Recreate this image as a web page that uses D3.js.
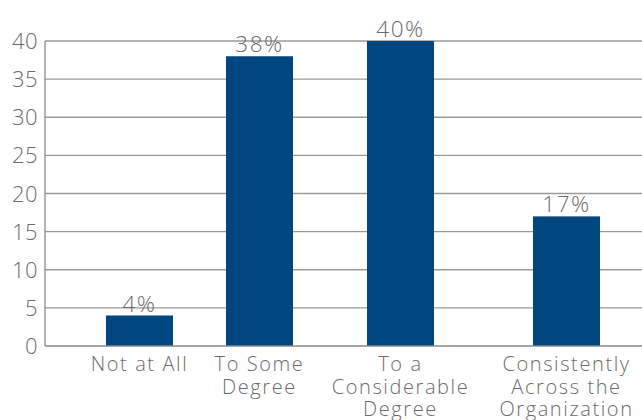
<!DOCTYPE html>
<html><head><meta charset="utf-8">
<script src="https://cdn.jsdelivr.net/npm/d3@7"></script>
<style>body{margin:0;background:#fff}svg{display:block}text{font-family:"Open Sans",Lato,sans-serif;font-weight:300;fill:#6b6b6b}</style>
</head><body><svg id="c" width="642" height="420"></svg>
<script>
const categories = [["Not at All"],["To Some","Degree"],["To a","Considerable","Degree"],["Consistently","Across the","Organization"]];
const values = [4, 38, 40, 17];
const valueLabels = ["4%","38%","40%","17%"];
const yTicks = [0,5,10,15,20,25,30,35,40];

(function(){
const svg = d3.select("#c");
const mLeft = 45, mRight = 642, mTop = 41, mBottom = 346;
const keys = categories.map(c => c.join(" "));
const y = d3.scaleLinear().domain([0, 40]).range([mBottom, mTop]);
const x = d3.scaleOrdinal().domain(keys).range([139.5, 259.5, 400.5, 566.5]);
const bw = 67;

svg.append("g").selectAll("line").data(yTicks.filter(t=>t>0)).join("line")
  .attr("x1", mLeft).attr("x2", mRight).attr("y1", d=>y(d)).attr("y2", d=>y(d))
  .attr("stroke", "#9a9a9a").attr("stroke-width", 1.3);
svg.append("g").selectAll("text").data(yTicks).join("text")
  .attr("x", 38).attr("y", d=>y(d)+8).attr("text-anchor","end")
  .attr("font-size", 22).attr("letter-spacing", 0.5).text(d=>d);

svg.append("g").selectAll("rect").data(values).join("rect")
  .attr("x", (d,i)=>x(keys[i]) - bw/2).attr("width", bw)
  .attr("y", d=>y(d)).attr("height", d=>mBottom - y(d))
  .attr("fill", "#00467f");

svg.append("line").attr("x1", mLeft).attr("x2", mLeft).attr("y1", mTop).attr("y2", mBottom).attr("stroke","#8a8a8a").attr("stroke-width",1.3);
svg.append("line").attr("x1", mLeft).attr("x2", mRight).attr("y1", mBottom).attr("y2", mBottom).attr("stroke","#8a8a8a").attr("stroke-width",1.5);

svg.append("g").selectAll("text").data(values).join("text")
  .attr("x", (d,i)=>x(keys[i])).attr("y", d=>y(d)-4).attr("text-anchor","middle")
  .attr("font-size", 22.5).attr("letter-spacing", 1.5).text((d,i)=>valueLabels[i]);

const xl = svg.append("g").selectAll("text").data(categories).join("text")
  .attr("text-anchor","middle").attr("font-size", 20).attr("letter-spacing", 1.6);
xl.each(function(lines, i){
  d3.select(this).selectAll("tspan").data(lines).join("tspan")
    .attr("x", x(keys[i])).attr("y", (l,j)=>371 + j*22.5).text(l=>l);
});
})();
</script></body></html>
